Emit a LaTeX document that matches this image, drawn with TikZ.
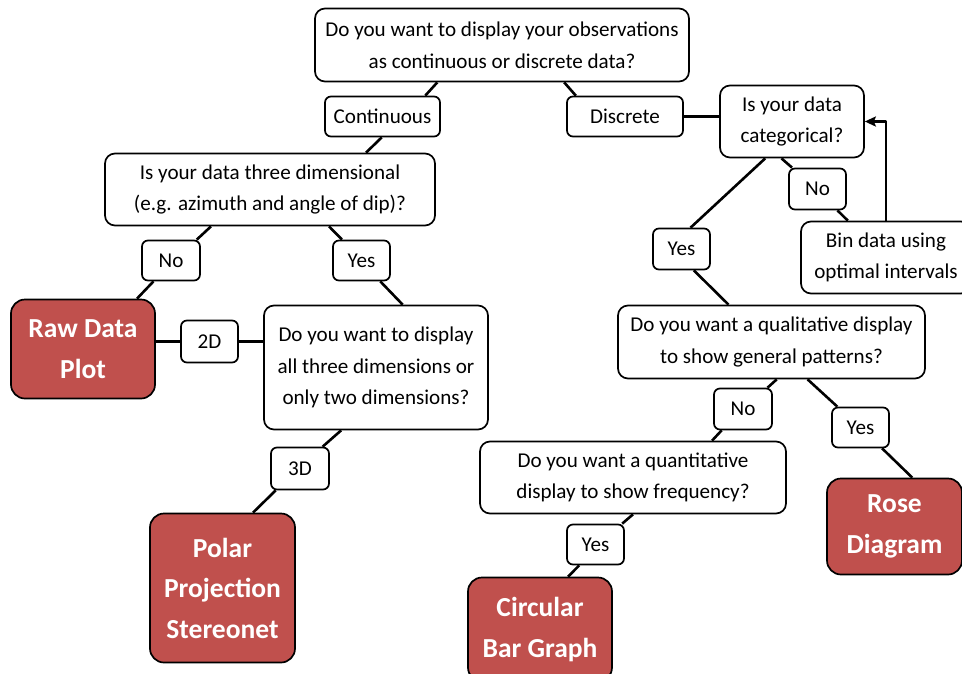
\documentclass[tikz,border=0pt]{standalone}
\usepackage{fontspec}
\setmainfont{Carlito}
\usetikzlibrary{arrows.meta}
\definecolor{boxred}{HTML}{C0504D}

\begin{document}
\begin{tikzpicture}[x=1pt,y=-1pt,>={Stealth[length=11pt,width=10pt,inset=2pt]},line join=round]
  \tikzstyle{question}=[draw=black,line width=1.7pt,rounded corners=10pt,fill=white,
                        align=center,inner sep=0pt,font=\fontsize{21.1}{31.7}\selectfont]
  \tikzstyle{answer}=[question,rounded corners=6pt]
  \tikzstyle{result}=[question,fill=boxred,text=white,rounded corners=14pt,
                      font=\fontsize{27.5}{40.5}\selectfont\bfseries]
  \tikzstyle{link}=[draw=black,line width=2.6pt]

  \useasboundingbox (0,0) rectangle (962,673);

  % questions
  \node[question,minimum width=374pt,minimum height=73pt] (top)   at (502,45)  {Do you want to display your observations\\as continuous or discrete data?};
  \node[question,minimum width=330pt,minimum height=72pt] (q3d)   at (270,189.5)   {Is your data three dimensional\\(e.g. azimuth and angle of dip)?};
  \node[question,minimum width=224pt,minimum height=124pt] (q23)  at (376,367.5)   {Do you want to display\\all three dimensions or\\only two dimensions?};
  \node[question,minimum width=144pt,minimum height=72pt] (cat)   at (792,121.5)   {Is your data\\categorical?};
  \node[question,minimum width=170pt,minimum height=72pt] (bin)   at (886,257.5)   {Bin data using\\optimal intervals};
  \node[question,minimum width=307pt,minimum height=73pt] (qual)  at (771.5,342) {Do you want a qualitative display\\to show general patterns?};
  \node[question,minimum width=306pt,minimum height=72pt] (quant) at (633,477.5)   {Do you want a quantitative\\display to show frequency?};

  % answers
  \node[answer,minimum width=115pt,minimum height=40pt] (cont) at (382.5,116.5) {Continuous};
  \node[answer,minimum width=116pt,minimum height=40pt] (disc) at (625,116.5)   {Discrete};
  \node[answer,minimum width=58pt,minimum height=40pt]  (no1)  at (171,260.5)   {No};
  \node[answer,minimum width=57pt,minimum height=40pt]  (yes1) at (361.5,260.5) {Yes};
  \node[answer,minimum width=57pt,minimum height=42pt]  (d2)   at (209.5,341.5) {2D};
  \node[answer,minimum width=58pt,minimum height=42pt]  (d3)   at (300,468.5)   {3D};
  \node[answer,minimum width=57pt,minimum height=41pt]  (no2)  at (817.5,189) {No};
  \node[answer,minimum width=57pt,minimum height=41pt]  (yes2) at (681.5,249) {Yes};
  \node[answer,minimum width=58pt,minimum height=41pt]  (no3)  at (743,409) {No};
  \node[answer,minimum width=57pt,minimum height=40pt]  (yes3) at (860.5,427.5) {Yes};
  \node[answer,minimum width=57pt,minimum height=40pt]  (yes4) at (595.5,544.5) {Yes};

  % results
  \node[result,minimum width=144pt,minimum height=99pt]  (raw)   at (83,349)  {Raw Data\\Plot};
  \node[result,minimum width=145pt,minimum height=149pt] (polar) at (222.5,588) {Polar\\Projection\\Stereonet};
  \node[result,minimum width=135pt,minimum height=96pt]  (rose)  at (894.5,526.5) {Rose\\Diagram};
  \node[result,minimum width=144pt,minimum height=104pt] (circ)  at (540,629.5)   {Circular\\Bar Graph};

  \path[link] (top.210)  edge (cont.26)
              (cont.268) edge (q3d.21)
              (top.329)  edge (disc.157)
              (disc.east) edge (disc.east -| cat.west)
              (q3d.212)  edge (no1.39)
              (no1.230)  edge (raw.43)
              (q3d.328)  edge (yes1.133)
              (yes1.312) edge (q23.67)
              (d2.west -| raw.east) edge (d2.west)
              (d2.east)  edge (d2.east -| q23.west)
              (q23.241)  edge (d3.44)
              (d3.222)   edge (polar.68)
              (cat.234)  edge (yes2.67)
              (yes2.300) edge (qual.139)
              (cat.254)  edge (no2.140)
              (no2.313)  edge (bin.136)
              (qual.278) edge (no3.41)
              (no3.225)  edge (quant.25)
              (qual.314) edge (yes3.138)
              (yes3.316) edge (rose.70)
              (quant.270) edge (yes4.38)
              (yes4.232) edge (circ.62);
  \draw[link,->] (bin.north) |- (cat.east);
\end{tikzpicture}
\end{document}
